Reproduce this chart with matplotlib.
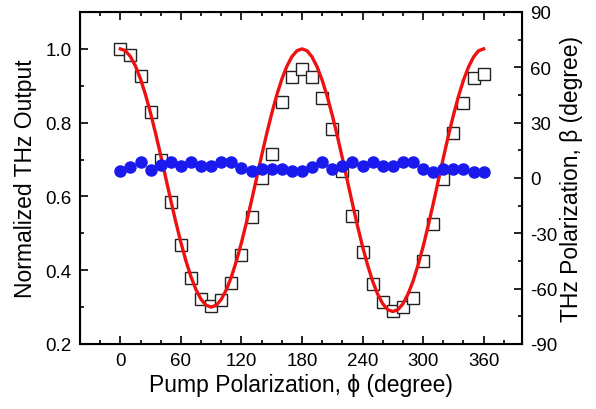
import numpy as np
import matplotlib.pyplot as plt
from matplotlib.ticker import MultipleLocator

plt.rcParams['font.family'] = ['Liberation Sans', 'DejaVu Sans']
plt.rcParams['axes.unicode_minus'] = False

# measured THz output (open squares), left axis
phi = [0, 10, 20, 30, 40, 50, 60, 70, 80, 90, 100, 110, 120, 130, 140, 150, 160, 170, 180,
       190, 200, 210, 220, 230, 240, 250, 260, 270, 280, 290, 300, 310, 320, 330, 340, 350, 360]
thz_out = [1.0, 0.984, 0.927, 0.828, 0.70, 0.585, 0.468, 0.378, 0.323, 0.304, 0.32, 0.365,
           0.44, 0.544, 0.65, 0.716, 0.856, 0.923, 0.945, 0.923, 0.866, 0.783, 0.668, 0.547,
           0.45, 0.364, 0.314, 0.29, 0.30, 0.324, 0.426, 0.526, 0.648, 0.772, 0.853, 0.922, 0.932]

# THz polarization angle (blue dots), right axis
beta = [3.9, 5.8, 8.8, 4.5, 7.0, 8.8, 6.7, 8.8, 6.7, 6.7, 8.8, 8.8, 5.2, 3.9, 4.9, 4.9, 4.9,
        3.9, 3.9, 5.8, 8.8, 4.9, 6.7, 8.8, 6.7, 8.8, 6.7, 6.7, 8.8, 8.8, 4.9, 3.4, 4.9, 4.9,
        4.9, 3.4, 3.4]

# fit curve (red), read every 5 degrees
fit_phi = list(range(0, 365, 5))
fit_val = [1.0, 0.995, 0.979, 0.953, 0.918, 0.875, 0.825, 0.770, 0.711, 0.650, 0.589, 0.530,
           0.475, 0.425, 0.382, 0.347, 0.321, 0.305, 0.300, 0.305, 0.321, 0.347, 0.382, 0.425,
           0.475, 0.530, 0.589, 0.650, 0.711, 0.770, 0.825, 0.875, 0.918, 0.953, 0.979, 0.995,
           1.0, 0.995, 0.978, 0.951, 0.915, 0.871, 0.820, 0.764, 0.704, 0.642, 0.580, 0.520,
           0.464, 0.414, 0.370, 0.335, 0.309, 0.293, 0.288, 0.293, 0.309, 0.335, 0.370, 0.414,
           0.464, 0.520, 0.580, 0.642, 0.704, 0.764, 0.820, 0.871, 0.915, 0.951, 0.978, 0.995, 1.0]

fig = plt.figure(figsize=(5.96, 4.10), dpi=100)
ax = fig.add_axes([80/596, 1-345/410, 442/596, 332/410])

ax.plot(phi, thz_out, 's', mfc='white', mec='#222222', mew=1.0, ms=8, zorder=2)
ax.plot(fit_phi, fit_val, '-', color='#ee1111', lw=2.4, zorder=3)

ax.set_xlim(-40, 398)
ax.set_ylim(0.2, 1.1)
ax.xaxis.set_major_locator(MultipleLocator(60))
ax.xaxis.set_minor_locator(MultipleLocator(20))
ax.yaxis.set_major_locator(MultipleLocator(0.2))
ax.yaxis.set_minor_locator(MultipleLocator(0.1))
ax.tick_params(which='both', direction='in', top=True, width=1.2, labelsize=13.5, pad=6)
ax.tick_params(which='major', length=6)
ax.tick_params(which='minor', length=3)
ax.set_xlabel('Pump Polarization, \u03d5 (degree)', fontsize=16.5, labelpad=3)
ax.set_ylabel('Normalized THz Output', fontsize=16.5, labelpad=6)
for s in ax.spines.values():
    s.set_linewidth(1.5)

ax2 = ax.twinx()
ax2.plot(phi, beta, 'o', color='#1a1aee', ms=8, zorder=4)
ax2.set_ylim(-90, 90)
ax2.yaxis.set_major_locator(MultipleLocator(30))
ax2.yaxis.set_minor_locator(MultipleLocator(15))
ax2.tick_params(which='both', direction='in', width=1.2, labelsize=13.5, pad=6)
ax2.tick_params(which='major', length=6)
ax2.tick_params(which='minor', length=3)
ax2.set_ylabel('THz Polarization, \u03b2 (degree)', fontsize=16.5, labelpad=2)

fig.savefig('out.png', dpi=100)
